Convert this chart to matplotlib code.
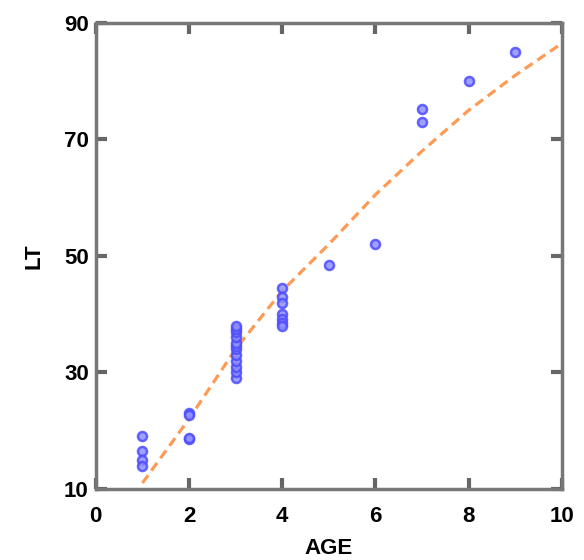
import matplotlib
matplotlib.use("Agg")
import matplotlib.pyplot as plt

age = [1, 1, 1, 1,
       2, 2, 2, 2,
       3, 3, 3, 3, 3, 3, 3, 3, 3, 3, 3, 3,
       4, 4, 4, 4, 4, 4, 4,
       5, 6, 7, 7, 8, 9]
lt = [19, 16.5, 15, 14,
      23, 22.7, 18.5, 18.7,
      29, 30, 31, 32, 33, 34, 34.5, 35, 36, 37, 37.5, 38,
      44.5, 43, 42, 40, 39.2, 38.5, 38,
      48.5, 52, 75.2, 73, 80, 85]

fit_age = [1, 2, 3, 4, 5, 6, 7, 8, 9, 10]
fit_lt = [11, 22, 34, 44, 52, 60.5, 68, 75, 81, 86.5]

xticks = [0, 2, 4, 6, 8, 10]
yticks = [10, 30, 50, 70, 90]

plt.rcParams['font.family'] = ['Liberation Sans', 'DejaVu Sans']
fig = plt.figure(figsize=(5.84, 5.60), dpi=100)
ax = fig.add_axes([0.164, 0.127, 0.798, 0.832])

ax.plot(fit_age, fit_lt, color='#ff9a55', lw=2.3, dashes=(3, 1.8), zorder=2)
ax.plot(age, lt, 'o', ms=6.5, mfc='#9090ff', mec='#4c4cff', mew=1.8, alpha=0.85, zorder=3)

ax.set_xlim(0, 10)
ax.set_ylim(10, 90)
ax.set_xticks(xticks)
ax.set_yticks(yticks)
for s in ax.spines.values():
    s.set_color('#777777')
    s.set_linewidth(2.5)
ax.tick_params(direction='in', length=8, width=3, color='#666666',
               top=True, right=True, labelsize=16)
ax.tick_params(axis='x', pad=12)
ax.tick_params(axis='y', pad=5)
for lab in ax.get_xticklabels() + ax.get_yticklabels():
    lab.set_fontweight('bold')
ax.set_xlabel('AGE', fontsize=16, fontweight='bold', labelpad=8)
ax.set_ylabel('LT', fontsize=16, fontweight='bold', labelpad=14)

fig.savefig('out.png', dpi=100)
